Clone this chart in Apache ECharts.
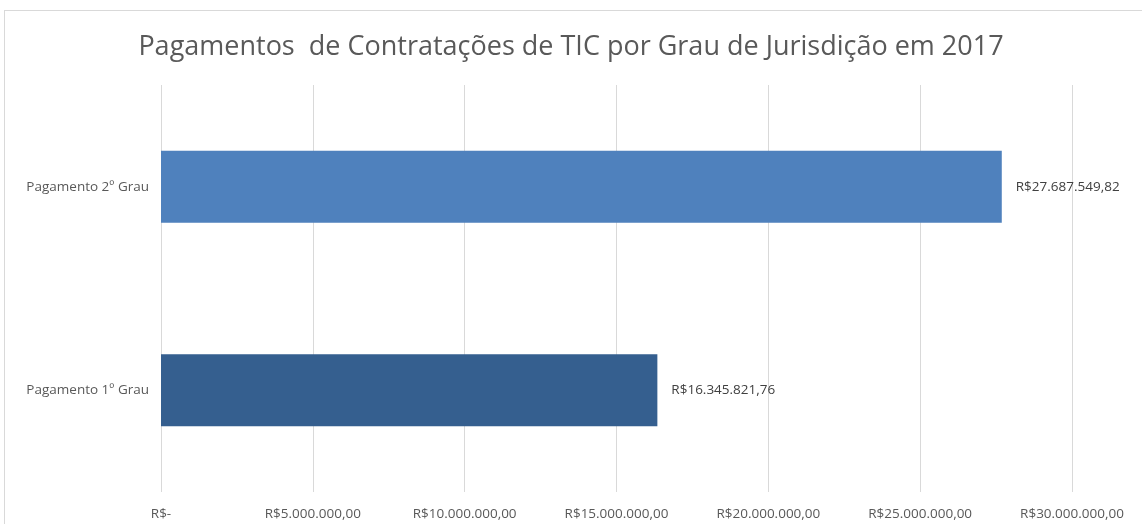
<!DOCTYPE html>
<html>
<head>
<meta charset="utf-8">
<script src="https://cdn.jsdelivr.net/npm/echarts@6/dist/echarts.min.js"></script>
<style>
  html, body { margin: 0; padding: 0; background: #fff; }
  #frame { position: absolute; left: 4px; top: 10px; width: 1160px; height: 540px; border: 1px solid #d9d9d9; box-sizing: border-box; }
  #chart { position: absolute; left: 0; top: 0; width: 1142px; height: 524px; }
</style>
</head>
<body>
<div id="frame"></div>
<div id="chart"></div>
<script>
// categorias de baixo para cima
const categorias = ['Pagamento 1º Grau', 'Pagamento 2º Grau'];
const valores = [16345821.76, 27687549.82];
const coresBarras = ['#355F8F', '#4F81BD'];

// formata no padrão R$ brasileiro
function formataReal(v, decimais) {
  if (v === 0) return 'R$-';
  const partes = v.toFixed(decimais).split('.');
  const inteiro = partes[0].replace(/\B(?=(\d{3})+(?!\d))/g, '.');
  return 'R$' + inteiro + (decimais ? ',' + partes[1] : '');
}

const chart = echarts.init(document.getElementById('chart'));
const fonte = '"Open Sans", "Noto Sans", sans-serif';

chart.setOption({
  backgroundColor: 'transparent',
  animation: false,
  title: {
    text: 'Pagamentos  de Contratações de TIC por Grau de Jurisdição em 2017',
    left: 'center',
    top: 29,
    textStyle: { fontFamily: fonte, fontSize: 27, fontWeight: 'normal', color: '#595959' }
  },
  grid: { left: 161, right: 70, top: 85, bottom: 32 },
  xAxis: {
    type: 'value',
    min: 0,
    max: 30000000,
    interval: 5000000,
    axisLine: { show: false },
    axisTick: { show: false },
    splitLine: { lineStyle: { color: '#d9d9d9', width: 1 } },
    axisLabel: {
      margin: 15,
      color: '#595959',
      fontFamily: fonte,
      fontSize: 13.5,
      formatter: v => formataReal(v, 2)
    }
  },
  yAxis: {
    type: 'category',
    data: categorias,
    axisLine: { show: false },
    axisTick: { show: false },
    axisLabel: { color: '#595959', fontFamily: fonte, fontSize: 13.5, margin: 12 }
  },
  series: [{
    type: 'bar',
    data: valores.map((v, i) => ({ value: v, itemStyle: { color: coresBarras[i] } })),
    barWidth: 72,
    label: {
      show: true,
      position: 'right',
      distance: 14,
      color: '#404040',
      fontFamily: fonte,
      fontSize: 13.5,
      formatter: p => formataReal(p.value, 2)
    }
  }]
});
</script>
</body>
</html>
